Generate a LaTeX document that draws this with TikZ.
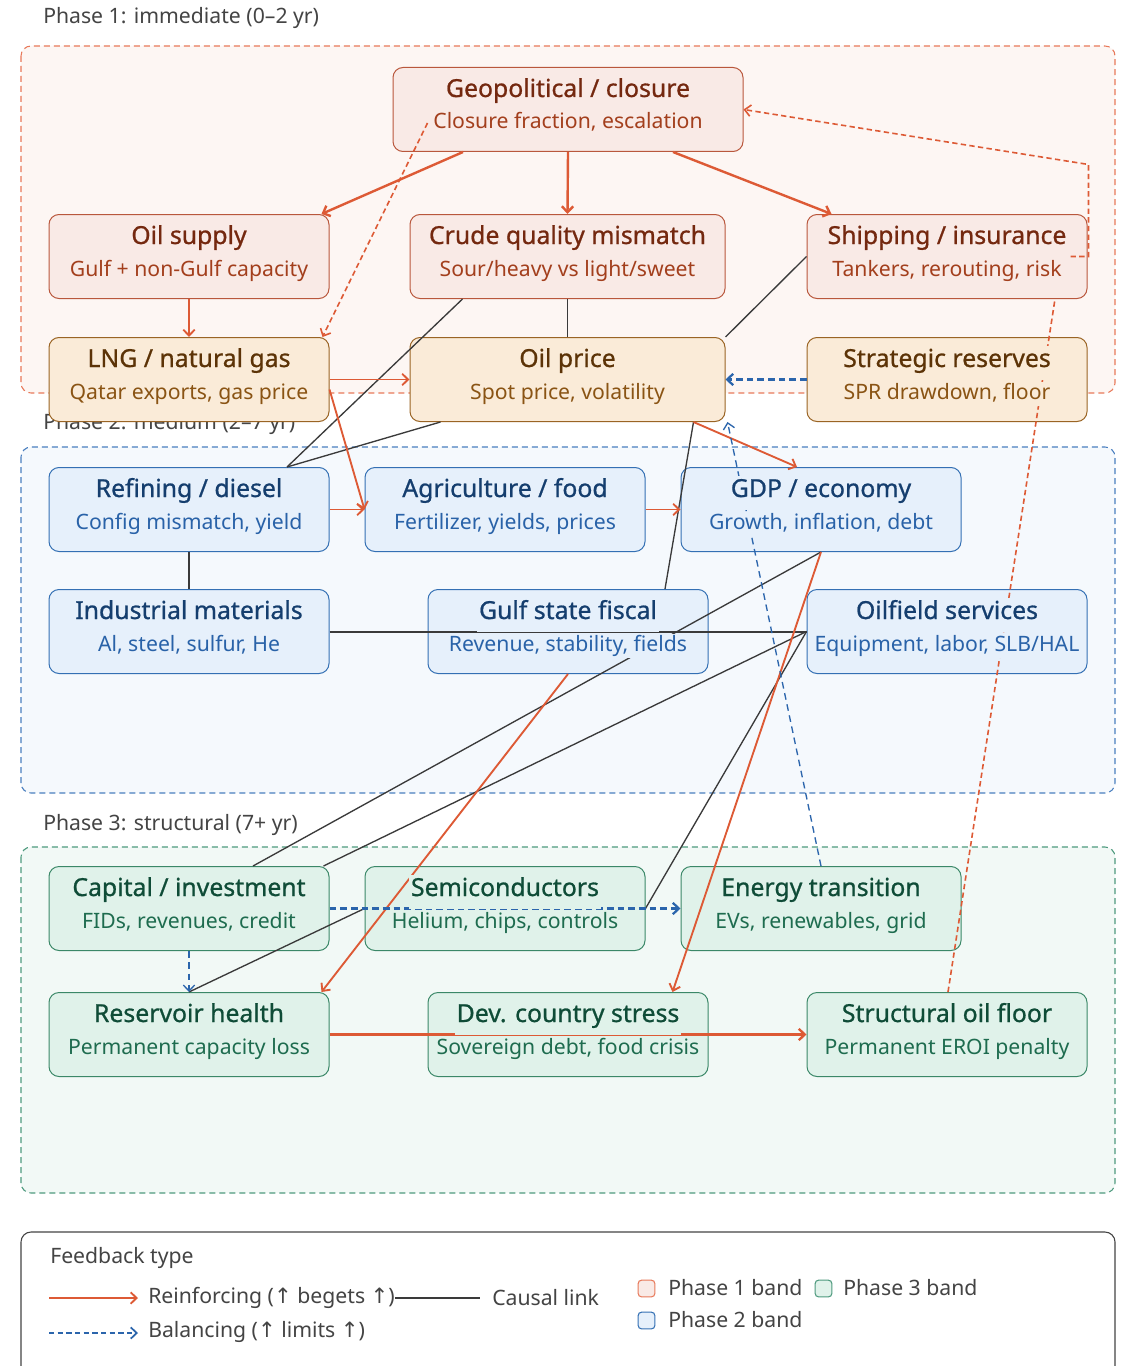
\documentclass[tikz,border=0pt]{standalone}
\usepackage{fontspec}
\setmainfont{Noto Sans}
\newfontfamily\tfont{Noto Sans}[FakeBold=0.8]
\newfontfamily\symfont{DejaVu Sans}
\usetikzlibrary{arrows.meta,calc}
\definecolor{orng}{HTML}{DD5A35}
\definecolor{blu}{HTML}{2B65AC}
\definecolor{blk}{HTML}{3A3A3A}
\definecolor{gry}{HTML}{444444}
% phase 1 red
\definecolor{rF}{HTML}{F9EAE6}\definecolor{rD}{HTML}{B9573C}\definecolor{rT}{HTML}{74280F}\definecolor{rS}{HTML}{A33F1D}
% phase 1 yellow
\definecolor{yF}{HTML}{FAEBD8}\definecolor{yD}{HTML}{9A6424}\definecolor{yT}{HTML}{5C3307}\definecolor{yS}{HTML}{8A5414}
% phase 2 blue
\definecolor{bF}{HTML}{E6F0FB}\definecolor{bD}{HTML}{3470B4}\definecolor{bT}{HTML}{153E6E}\definecolor{bS}{HTML}{2962A8}
% phase 3 green
\definecolor{gF}{HTML}{E0F2EA}\definecolor{gD}{HTML}{3B8868}\definecolor{gT}{HTML}{0F4C37}\definecolor{gS}{HTML}{1E6C4F}
% bands
\definecolor{band1F}{HTML}{FDF6F3}\definecolor{band1D}{HTML}{E8795A}
\definecolor{band2F}{HTML}{F5F9FD}\definecolor{band2D}{HTML}{4A7FBF}
\definecolor{band3F}{HTML}{F2F9F6}\definecolor{band3D}{HTML}{4E9A7E}
\tikzset{
  boxbase/.style={rounded corners=7.5pt, minimum height=63pt, minimum width=210pt, inner sep=0pt, line width=0.75pt},
  box1/.style={boxbase, draw=rD, fill=rF},
  boxy/.style={boxbase, draw=yD, fill=yF},
  box2/.style={boxbase, draw=bD, fill=bF},
  box3/.style={boxbase, draw=gD, fill=gF},
  ttl/.style={anchor=base, inner xsep=1.5pt, inner ysep=1pt, text height=14.5pt, text depth=9pt,
     font=\tfont\fontsize{18.6pt}{21pt}\selectfont},
  sub/.style={anchor=base, inner xsep=1.5pt, inner ysep=1pt, text height=11.4pt, text depth=4pt,
     font=\fontsize{15.9pt}{18pt}\selectfont},
  t1/.style={ttl, fill=rF, text=rT}, s1/.style={sub, fill=rF, text=rS},
  ty/.style={ttl, fill=yF, text=yT}, sy/.style={sub, fill=yF, text=yS},
  t2/.style={ttl, fill=bF, text=bT}, s2/.style={sub, fill=bF, text=bS},
  t3/.style={ttl, fill=gF, text=gT}, s3/.style={sub, fill=gF, text=gS},
  tip/.style={-{Straight Barb[length=4.5pt,width=8.5pt]}},
  reinf/.style={draw=orng, line width=1.4pt, tip},
  reinfb/.style={draw=orng, line width=1.8pt, tip},
  causal/.style={draw=blk, line width=1pt},
  bal/.style={draw=blu, line width=1.7pt, dash pattern=on 5pt off 3pt, tip},
  balthin/.style={draw=blu, line width=1pt, dash pattern=on 5pt off 3.5pt, tip},
  fback/.style={draw=orng, line width=1.2pt, dash pattern=on 4pt off 2.5pt},
  phaselab/.style={anchor=west, inner sep=0pt, text=gry, font=\fontsize{15.9pt}{18pt}\selectfont},
  legtext/.style={anchor=west, inner sep=0pt, text=gry, font=\fontsize{15.9pt}{18pt}\selectfont},
  swatch/.style={rounded corners=2.5pt, line width=0.8pt, minimum width=12.5pt, minimum height=12.5pt, inner sep=0pt}
}
\newcommand\boxlabels[5]{%
  \node[#2] (#1-t) at ($(#1.north)+(0,30)$) {#4};
  \node[#3] (#1-s) at ($(#1.north)+(0,62)$) {#5};}
\begin{document}
\begin{tikzpicture}[x=0.75pt,y=-0.75pt]
\useasboundingbox (0,0) rectangle (1126,1366);
\fill[white] (0,0) rectangle (1126,1366);
% bands
\draw[fill=band1F, draw=band1D, line width=0.8pt, dash pattern=on 4.5pt off 3pt, rounded corners=7.5pt] (21,46) rectangle (1115,393);
\draw[fill=band2F, draw=band2D, line width=0.8pt, dash pattern=on 4.5pt off 3pt, rounded corners=7.5pt] (21,447) rectangle (1115,793);
\draw[fill=band3F, draw=band3D, line width=0.8pt, dash pattern=on 4.5pt off 3pt, rounded corners=7.5pt] (21,847) rectangle (1115,1193);
\node[phaselab] (ph1) at (43,18) {Phase 1: immediate (0–2 yr)};
\node[phaselab] (ph2) at (43,424) {Phase 2: medium (2–7 yr)};
\node[phaselab] (ph3) at (43,825) {Phase 3: structural (7+ yr)};
% boxes
\node[box1, minimum width=262.5pt] (geo) at (568,109.5) {};
\node[box1] (oilsup) at (189,256.5) {};
\node[box1, minimum width=236.25pt] (crude) at (567.5,256.5) {};
\node[box1] (ship) at (947,256.5) {};
\node[boxy] (lng) at (189,379.5) {};
\node[boxy, minimum width=236.25pt] (oilp) at (567.5,379.5) {};
\node[boxy] (strat) at (947,379.5) {};
\node[box2] (refin) at (189,509.5) {};
\node[box2] (agri) at (505,509.5) {};
\node[box2] (gdp) at (821,509.5) {};
\node[box2] (indus) at (189,631.5) {};
\node[box2] (gulf) at (568,631.5) {};
\node[box2] (oilf) at (947,631.5) {};
\node[box3] (capital) at (189,908.5) {};
\node[box3] (semi) at (505,908.5) {};
\node[box3] (energy) at (821,908.5) {};
\node[box3] (reserv) at (189,1034.5) {};
\node[box3] (dev) at (568,1034.5) {};
\node[box3] (floor) at (947,1034.5) {};
% causal links
\draw[causal] (crude.south) -- (oilp.north);
\draw[causal] ($(crude.south west)+(53,0)$) -- ($(refin.north)+(98,0)$);
\draw[causal] ($(oilp.south west)+(31,0)$) -- ($(refin.north)+(98,0)$);
\draw[causal] (ship.west) -- (oilp.north east);
\draw[causal] (refin.south) -- (indus.north);
\draw[causal] ($(oilp.south east)+(-32,0)$) -- ($(gulf.north)+(97,0)$);
\draw[causal, line width=1.5pt] (indus.east) -- (oilf.west);
\draw[causal] (gdp.south) -- ($(capital.north)+(64,0)$);
\draw[causal] (oilf.west) -- ($(capital.north east)+(-6,0)$);
\draw[causal] (oilf.west) -- (semi.east);
\draw[causal] (semi.west) -- (reserv.north);
% reinforcing
\draw[reinfb] ($(geo.south)+(-105,0)$) -- ($(oilsup.north east)+(-8,0)$);
\draw[reinfb] (geo.south) -- (crude.north);
\draw[reinfb] ($(geo.south)+(105,0)$) -- ($(ship.north west)+(25,0)$);
\draw[reinf] (oilsup.south) -- (lng.north);
\draw[reinf] (lng.east) -- (oilp.west);
\draw[reinf] ($(lng.east)+(0,10)$) -- (agri.west);
\draw[reinf] (refin.east) -- (agri.west);
\draw[reinf] (agri.east) -- (gdp.west);
\draw[reinf] ($(oilp.south east)+(-32,0)$) -- ($(gdp.north)+(-24,0)$);
\draw[reinf] (gulf.south) -- ($(reserv.north east)+(-8,0)$);
\draw[reinf] (gdp.south) -- ($(dev.north east)+(-36,0)$);
\draw[reinfb] (reserv.east) -- (floor.west);
% balancing
\draw[bal] (strat.west) -- (oilp.east);
\draw[balthin] (energy.north) -- ($(oilp.south east)+(2,0)$);
\draw[bal] (capital.east) -- (energy.west);
\draw[balthin] (capital.south) -- (reserv.north);
% feedback (dashed orange)
\draw[fback, tip] ($(geo.west)+(35,13.5)$) -- ($(lng.north east)+(-7,0)$);
\draw[fback, tip] ($(ship.east)+(-17,0)$) -- ($(ship.east)+(1,0)$) -- ($(ship.east)+(1,-92)$) -- (geo.east);
\draw[fback] ($(floor.north)+(1,0)$) -- ($(ship.south)+(108,0)$);
% labels
\boxlabels{geo}{t1}{s1}{Geopolitical / closure}{Closure fraction, escalation}
\boxlabels{oilsup}{t1}{s1}{Oil supply}{Gulf + non-Gulf capacity}
\boxlabels{crude}{t1}{s1}{Crude quality mismatch}{Sour/heavy vs light/sweet}
\boxlabels{ship}{t1}{s1}{Shipping / insurance}{Tankers, rerouting, risk}
\boxlabels{lng}{ty}{sy}{LNG / natural gas}{Qatar exports, gas price}
\boxlabels{oilp}{ty}{sy}{Oil price}{Spot price, volatility}
\boxlabels{strat}{ty}{sy}{Strategic reserves}{SPR drawdown, floor}
\boxlabels{refin}{t2}{s2}{Refining / diesel}{Config mismatch, yield}
\boxlabels{agri}{t2}{s2}{Agriculture / food}{Fertilizer, yields, prices}
\boxlabels{gdp}{t2}{s2}{GDP / economy}{Growth, inflation, debt}
\boxlabels{indus}{t2}{s2}{Industrial materials}{Al, steel, sulfur, He}
\boxlabels{gulf}{t2}{s2}{Gulf state fiscal}{Revenue, stability, fields}
\boxlabels{oilf}{t2}{s2}{Oilfield services}{Equipment, labor, SLB/HAL}
\boxlabels{capital}{t3}{s3}{Capital / investment}{FIDs, revenues, credit}
\boxlabels{semi}{t3}{s3}{Semiconductors}{Helium, chips, controls}
\boxlabels{energy}{t3}{s3}{Energy transition}{EVs, renewables, grid}
\boxlabels{reserv}{t3}{s3}{Reservoir health}{Permanent capacity loss}
\boxlabels{dev}{t3}{s3}{Dev. country stress}{Sovereign debt, food crisis}
\boxlabels{floor}{t3}{s3}{Structural oil floor}{Permanent EROI penalty}
% legend
\draw[draw=gry, line width=0.8pt, fill=white, rounded corners=7.5pt] (21,1232) rectangle (1115,1420);
\node[legtext] (legtitle) at (50,1258) {Feedback type};
\coordinate (lr1) at (49,1298); \coordinate (lr2) at (138,1298);
\draw[reinf] (lr1) -- (lr2);
\node[legtext] (legr) at (148,1298) {Reinforcing ({\symfont ↑} begets {\symfont ↑})};
\coordinate (lc2) at (480,1298);
\draw[causal] (legr.east) -- (lc2);
\node[legtext] (legc) at (492,1298) {Causal link};
\coordinate (lb1) at (49,1333); \coordinate (lb2) at (138,1333);
\draw[bal, line width=1.3pt, dash pattern=on 4pt off 2.5pt] (lb1) -- (lb2);
\node[legtext] (legb) at (148,1332) {Balancing ({\symfont ↑} limits {\symfont ↑})};
\node[swatch, draw=band1D, fill=rF] (sw1) at (646.5,1288.5) {};
\node[legtext] (sw1t) at (668,1288) {Phase 1 band};
\node[swatch, draw=band3D, fill=gF] (sw3) at (823.5,1288.5) {};
\node[legtext] (sw3t) at (843,1288) {Phase 3 band};
\node[swatch, draw=bD, fill=bF] (sw2) at (646.5,1320.5) {};
\node[legtext] (sw2t) at (668,1320) {Phase 2 band};
\end{tikzpicture}
\end{document}
